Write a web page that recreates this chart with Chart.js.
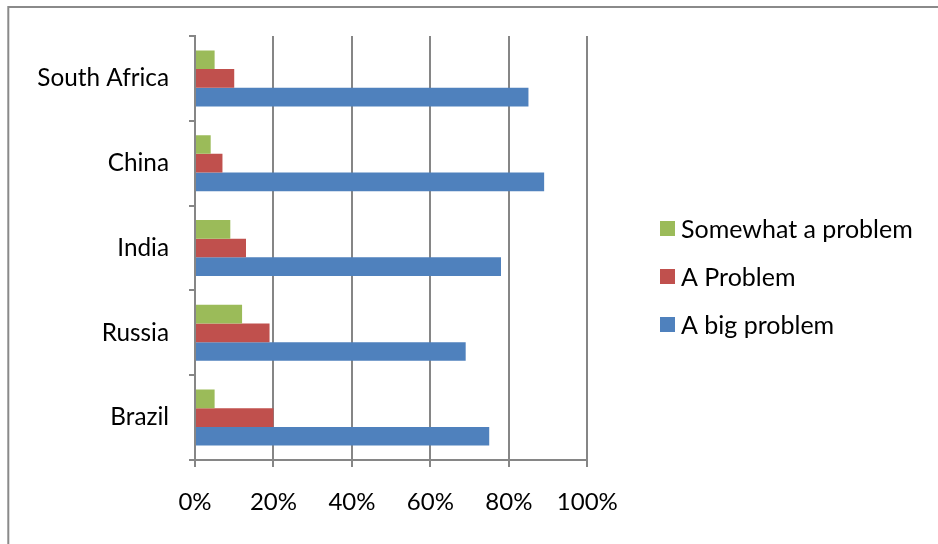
<!DOCTYPE html>
<html>
<head>
<meta charset="utf-8">
<script src="https://cdn.jsdelivr.net/npm/chart.js@4"></script>
<style>
  html, body { margin: 0; padding: 0; background: #fff; overflow: hidden; }
  #wrap { position: relative; width: 938px; height: 544px; }
</style>
</head>
<body>
<div id="wrap"><canvas id="chart"></canvas></div>
<script>
// data
const countries = ['South Africa', 'China', 'India', 'Russia', 'Brazil'];
const somewhat = [5, 4, 9, 12, 5];
const aProblem = [10, 7, 13, 19, 20];
const bigProblem = [85, 89, 78, 69, 75];
const seriesNames = ['Somewhat a problem', 'A Problem', 'A big problem'];
const xTicks = [0, 20, 40, 60, 80, 100];

const FONT = 'Lato, "Open Sans", sans-serif';
const GRID = '#868686';

// frame line round the chart + legend on the right
const framePlugin = {
    id: 'frame',
    beforeDraw(chart) {
        const c = chart.ctx;
        c.save();
        c.strokeStyle = '#8a8a8a';
        c.lineWidth = 2;
        c.beginPath();
        c.moveTo(8.3, 544);
        c.lineTo(8.3, 7);
        c.lineTo(938, 7);
        c.stroke();
        c.restore();
    },
    afterDraw(chart) {
        const c = chart.ctx;
        c.save();
        c.font = '25px ' + FONT;
        c.textBaseline = 'middle';
        chart.data.datasets.forEach((ds, i) => {
            const y = 228.5 + i * 48;
            c.fillStyle = ds.backgroundColor;
            c.fillRect(660, y - 7.5, 15, 15);
            c.fillStyle = '#000';
            c.fillText(ds.label, 681, y + 1);
        });
        c.restore();
    }
};

new Chart(document.getElementById('chart'), {
    type: 'bar',
    data: {
        labels: countries,
        datasets: [
            { label: seriesNames[0], data: somewhat, backgroundColor: '#9BBB59' },
            { label: seriesNames[1], data: aProblem, backgroundColor: '#C0504D' },
            { label: seriesNames[2], data: bigProblem, backgroundColor: '#4F81BD' }
        ]
    },
    options: {
        indexAxis: 'y',
        responsive: true, maintainAspectRatio: false,
        animation: false,
        datasets: { bar: { barPercentage: 1, categoryPercentage: 0.66 } },
        layout: { padding: { top: 36, right: 350.7, left: 0, bottom: 0 } },
        plugins: { legend: { display: false }, tooltip: { enabled: false } },
        scales: {
            x: {
                min: 0, max: 100,
                afterBuildTicks: s => { s.ticks = xTicks.map(v => ({ value: v })); },
                afterFit: s => { s.height = 84; },
                ticks: { color: '#000', font: { family: FONT, size: 24 }, padding: 20.6, maxRotation: 0, callback: v => v + '%' },
                grid: { color: GRID, lineWidth: 2, tickLength: 7 },
                border: { color: GRID, width: 2 }
            },
            y: {
                afterFit: s => { s.width = 195; },
                ticks: { color: '#000', font: { family: FONT, size: 24.3 }, padding: 20 },
                grid: { drawOnChartArea: false, color: GRID, lineWidth: 2, tickLength: 6 },
                border: { color: GRID, width: 2 }
            }
        }
    },
    plugins: [framePlugin]
});
</script>
</body>
</html>
